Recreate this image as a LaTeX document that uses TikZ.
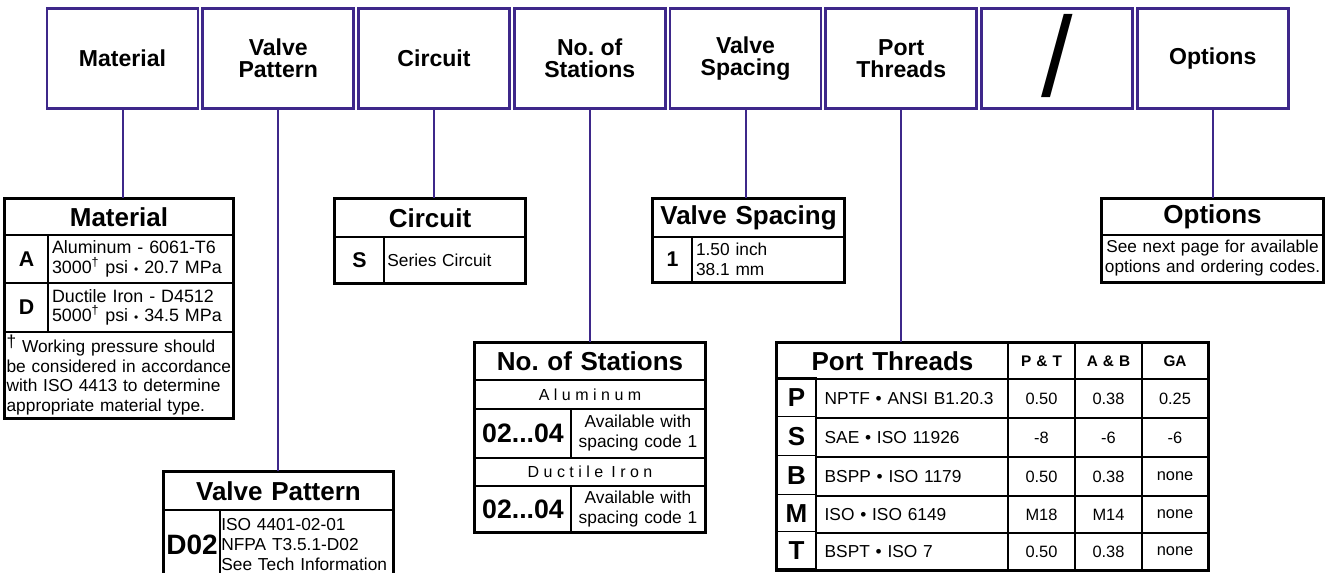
\documentclass[tikz,border=0pt]{standalone}
\usepackage{fontspec}
\setmainfont{Liberation Sans}
\newfontfamily\spacedfont[LetterSpace=28]{Liberation Sans}
\definecolor{pur}{RGB}{62,40,138}
\frenchspacing
% \tcell[opts]{name}{x1}{y1}{x2}{y2}{pad in pt}{text}
\newcommand\tcell[8][]{%
  \pgfmathsetmacro\cw{(#5-#3)*0.75}%
  \pgfmathsetmacro\ch{(#6-#4)*0.75}%
  \pgfmathsetmacro\tw{(#5-#3)*0.75-2*#7}%
  \node[cellbox,minimum width=\cw pt,minimum height=\ch pt,text width=\tw pt,inner xsep=#7pt,#1] (#2) at ({(#3+#5)/2},{(#4+#6)/2}) {#8};}
\tikzset{
  cellbox/.style={draw=black,line width=0.9pt,inner ysep=0pt,align=center,font=\fontsize{13}{15}\selectfont},
  lefttext/.style={align=left},
  hdr/.style={font=\fontsize{19.5}{22}\selectfont\bfseries},
  letter/.style={font=\fontsize{16}{18}\selectfont\bfseries},
  bigletter/.style={font=\fontsize{19.5}{20}\selectfont\bfseries},
  code/.style={font=\fontsize{20}{22}\selectfont\bfseries},
  sub/.style={font=\fontsize{11.5}{13}\selectfont\bfseries},
  val/.style={font=\fontsize{12.3}{14}\selectfont},
  mat/.style={font=\fontsize{13.4}{14.6}\selectfont},
  spaced/.style={font=\fontsize{12}{14}\spacedfont},
  outer/.style={draw=black,line width=2pt},
  topbox/.style={draw=pur,line width=2pt,minimum width=113.25pt,minimum height=75pt,inner sep=0pt,align=center,font=\fontsize{17.3}{16.5}\selectfont\bfseries},
  conn/.style={draw=pur,line width=1.5pt}
}
\begin{document}
\begin{tikzpicture}[x=0.75pt,y=-0.75pt]
\useasboundingbox (0,0) rectangle (1326,573);
\clip (0,0) rectangle (1326,573);
\fill[white] (0,0) rectangle (1326,573);
% top row
\node[topbox] (tb1) at (122.5,58.5) {Material};
\node[topbox] (tb2) at (278.25,58.5) {Valve\\Pattern};
\node[topbox] (tb3) at (434,58.5) {Circuit};
\node[topbox] (tb4) at (589.75,58.5) {No. of\\Stations};
\node[topbox] (tb5) at (745.5,58.5) {Valve\\Spacing};
\node[topbox] (tb6) at (901.25,58.5) {Port\\Threads};
\node[topbox,font=\fontsize{85}{85}\selectfont] (tb7) at (1057,58.5) {\raisebox{4pt}{/}};
\node[topbox] (tb8) at (1212.75,58.5) {Options};
% Material
\tcell[hdr]{matH}{5}{199}{233}{235}{1}{Material}
\tcell[letter]{matA}{5}{235}{48}{283}{1}{A}
\tcell[lefttext,mat]{matAt}{48}{235}{233}{283}{3}{\mbox{Aluminum - 6061-T6}\\\mbox{3000\textsuperscript{†} psi {\fontsize{9}{9}\selectfont•} 20.7 MPa}}
\tcell[letter]{matD}{5}{283}{48}{332}{1}{D}
\tcell[lefttext,mat]{matDt}{48}{283}{233}{332}{3}{\mbox{Ductile Iron - D4512}\\\mbox{5000\textsuperscript{†} psi {\fontsize{9}{9}\selectfont•} 34.5 MPa}}
\tcell[lefttext,font=\fontsize{13}{14.6}\selectfont]{matF}{5}{332}{233}{418}{1.2}{\mbox{\raisebox{0.3em}{†} Working pressure should}\\\mbox{be considered in accordance}\\\mbox{with ISO 4413 to determine}\\\mbox{appropriate material type.}}
\draw[outer] (matH.north west) rectangle (matF.south east);
% Circuit
\tcell[hdr]{cirH}{335}{199}{525}{237}{1}{Circuit}
\tcell[letter]{cirS}{335}{237}{384}{283}{1}{S}
\tcell[lefttext]{cirSt}{384}{237}{525}{283}{2.5}{Series Circuit}
\draw[outer] (cirH.north west) rectangle (cirSt.south east);
% Valve Spacing
\tcell[hdr]{vsH}{653}{199}{844}{237}{0.5}{Valve Spacing}
\tcell[letter]{vs1}{653}{237}{692}{282}{1}{1}
\tcell[lefttext]{vs1t}{692}{237}{844}{282}{3}{1.50 inch\\38.1 mm}
\draw[outer] (vsH.north west) rectangle (vs1t.south east);
% Options
\tcell[hdr]{opH}{1102}{199}{1323}{235}{1}{Options}
\tcell[font=\fontsize{12.9}{15}\selectfont]{opT}{1102}{235}{1323}{282}{0.5}{\mbox{See next page for available}\\\mbox{options and ordering codes.}}
\draw[outer] (opH.north west) rectangle (opT.south east);
% No. of Stations
\tcell[hdr]{stH}{475}{343}{705}{380}{1}{No. of Stations}
\tcell[spaced]{stAl}{475}{380}{705}{409}{1}{Aluminum}
\tcell[code]{stA1}{475}{409}{571}{458}{0.5}{02...04}
\tcell{stA2}{571}{409}{705}{458}{1}{Available with\\spacing code 1}
\tcell[spaced]{stDi}{475}{458}{705}{486}{1}{Ductile\hspace{6pt}Iron}
\tcell[code]{stD1}{475}{486}{571}{532}{0.5}{02...04}
\tcell{stD2}{571}{486}{705}{532}{1}{Available with\\spacing code 1}
\draw[outer] (stH.north west) rectangle (stD2.south east);
% Port Threads
\tcell[hdr]{ptH}{777}{343}{1008}{379}{1}{Port Threads}
\tcell[sub]{ptC1}{1008}{343}{1075}{379}{1}{P \& T}
\tcell[sub]{ptC2}{1075}{343}{1142}{379}{1}{A \& B}
\tcell[sub]{ptC3}{1142}{343}{1208}{379}{1}{GA}
\foreach \r/\ya/\yb/\L/\d/\va/\vb/\vc in {
  1/379/418/P/NPTF • ANSI B1.20.3/0.50/0.38/0.25,
  2/418/457/S/SAE • ISO 11926/-8/-6/-6,
  3/457/496/B/BSPP • ISO 1179/0.50/0.38/none,
  4/496/533/M/ISO • ISO 6149/M18/M14/none,
  5/533/570/T/BSPT • ISO 7/0.50/0.38/none}{
  \tcell[bigletter,yshift=1pt]{ptL\r}{777}{\ya}{816}{\yb}{0.5}{\L}
  \tcell[lefttext]{ptD\r}{816}{\ya}{1008}{\yb}{6.5}{\mbox{\d}}
  \tcell[val]{ptA\r}{1008}{\ya}{1075}{\yb}{1}{\va}
  \tcell[val]{ptB\r}{1075}{\ya}{1142}{\yb}{1}{\vb}
  \tcell[val]{ptG\r}{1142}{\ya}{1208}{\yb}{1}{\vc}
}
\draw[outer] (ptH.north west) rectangle (ptG5.south east);
% Valve Pattern
\tcell[hdr]{vpH}{164}{472}{393}{510}{1}{Valve Pattern}
\tcell[code,font=\fontsize{21}{22}\selectfont\bfseries]{vpD}{164}{510}{220}{580}{0.2}{D02}
\tcell[lefttext]{vpDt}{220}{510}{393}{580}{1}{\mbox{ISO 4401-02-01}\\\mbox{NFPA T3.5.1-D02}\\\mbox{See Tech Information}}
\draw[outer] (vpH.north west) rectangle (vpDt.south east);
% connectors
\draw[conn] (tb1.south) -- (tb1.south |- matH.north);
\draw[conn] (tb2.south) -- (tb2.south |- vpH.north);
\draw[conn] (tb3.south) -- (tb3.south |- cirH.north);
\draw[conn] (tb4.south) -- (tb4.south |- stH.north);
\draw[conn] (tb5.south) -- (tb5.south |- vsH.north);
\draw[conn] (tb6.south) -- (tb6.south |- ptH.north);
\draw[conn] (tb8.south) -- (tb8.south |- opH.north);
\end{tikzpicture}
\end{document}
